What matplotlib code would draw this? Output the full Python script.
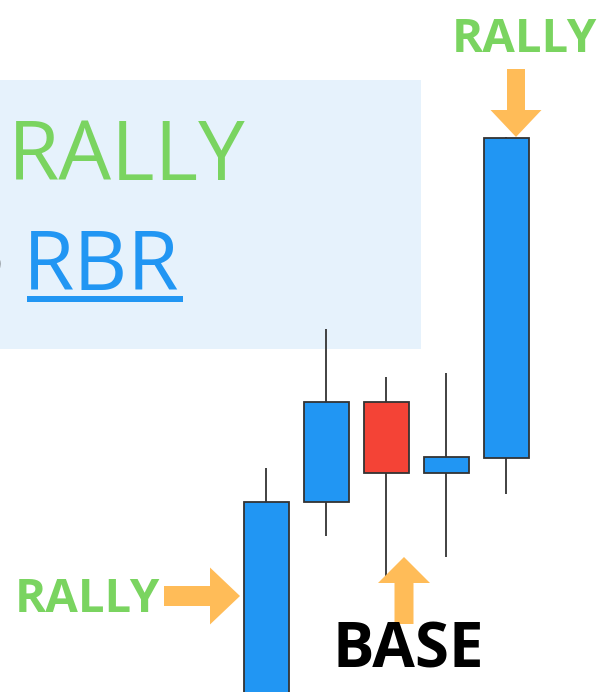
# Rally-Base-Rally (RBR) candlestick illustration

import matplotlib
matplotlib.use("Agg")
import matplotlib.pyplot as plt
from matplotlib.patches import Rectangle, FancyArrow

# ======================================
# DATA
# ======================================

opens = [-40, 190, 290, 219, 234]
closes = [190, 290, 219, 235, 554]
highs = [224, 363, 315, 319, 555]
lows = [-60, 156, 109, 135, 198]

BLUE = "#2196F3"
RED = "#F44336"
GREEN = "#7AD460"
ORANGE = "#FFBC58"
EDGE = "#333333"
BOX = "#E6F2FC"

# ======================================
# FIGURE
# ======================================

fig = plt.figure(figsize=(5.97, 6.92), dpi=100)

# background box in pixel units
ax2 = fig.add_axes([0, 0, 1, 1])
ax2.set_xlim(0, 597)
ax2.set_ylim(692, 0)
ax2.axis("off")

ax2.add_patch(Rectangle((0, 80), 421, 269, facecolor=BOX, edgecolor="none", zorder=0))

# candles
ax = fig.add_axes([0, 0, 1, 1])
ax.set_xlim(-266 / 60, (597 - 266) / 60)
ax.set_ylim(0, 692)
ax.axis("off")

body_w = 0.75
for i in range(len(opens)):
    o, c, h, l = opens[i], closes[i], highs[i], lows[i]
    color = BLUE if c >= o else RED
    ax.plot([i, i], [l, h], color=EDGE, lw=1.3, zorder=1, solid_capstyle="butt")
    ax.add_patch(Rectangle((i - body_w / 2, min(o, c)), body_w, abs(c - o),
                           facecolor=color, edgecolor=EDGE, lw=1.3, zorder=2))

# overlay for text and arrows (on top)
ax3 = fig.add_axes([0, 0, 1, 1])
ax3.set_xlim(0, 597)
ax3.set_ylim(692, 0)
ax3.axis("off")

ax3.text(8, 180, "RALLY", fontsize=60, color=GREEN, family="Open Sans",
         va="baseline", ha="left")
ax3.text(3.3, 265, "o", fontsize=40, color=EDGE, family="Open Sans",
         va="center", ha="right")
ax3.text(23, 290, "RBR", fontsize=60, color=BLUE, family="Open Sans",
         va="baseline", ha="left")
ax3.add_patch(Rectangle((27, 296), 156, 6, facecolor=BLUE, edgecolor="none"))

ax3.text(452, 52, "RALLY", fontsize=34, color=GREEN, family="Open Sans",
         weight="bold", va="baseline", ha="left")
ax3.text(15, 612, "RALLY", fontsize=34, color=GREEN, family="Open Sans",
         weight="bold", va="baseline", ha="left")
ax3.text(333, 668, "BASE", fontsize=44.5, color="black", family="Open Sans",
         weight="bold", va="baseline", ha="left")

ax3.add_patch(FancyArrow(516, 69, 0, 68, width=18, head_width=51, head_length=27,
                         length_includes_head=True, color=ORANGE, lw=0))
ax3.add_patch(FancyArrow(164, 596, 76, 0, width=20, head_width=57, head_length=30,
                         length_includes_head=True, color=ORANGE, lw=0))
ax3.add_patch(FancyArrow(404, 624, 0, -67, width=19, head_width=52, head_length=26,
                         length_includes_head=True, color=ORANGE, lw=0))

plt.savefig("out.png", dpi=100)
